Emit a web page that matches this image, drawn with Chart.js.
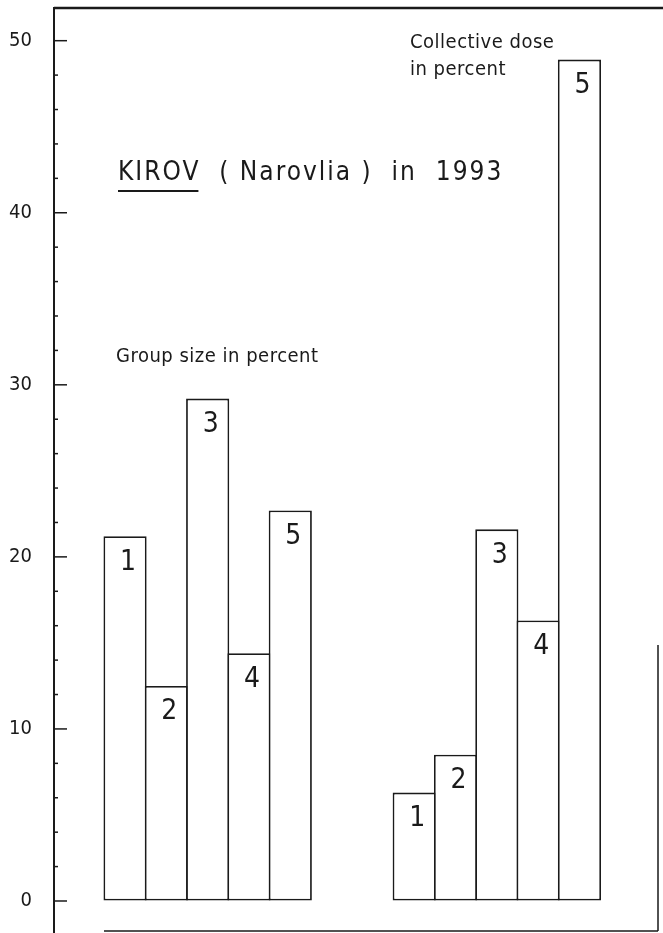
<!DOCTYPE html>
<html>
<head>
<meta charset="utf-8">
<script src="https://cdn.jsdelivr.net/npm/chart.js@4.4.1/dist/chart.umd.min.js"></script>
<style>
  html, body { margin: 0; padding: 0; background: #fff; }
  #wrap { width: 663px; height: 933px; }
</style>
</head>
<body>
<div id="wrap"><canvas id="myChart"></canvas></div>
<script>
// group numbers written inside the bars
const groups = ['1', '2', '3', '4', '5'];

// left block: group size in percent
const groupSize = [21.2, 12.5, 29.2, 14.4, 22.7];

// right block: collective dose in percent
const collectiveDose = [6.3, 8.5, 21.6, 16.3, 48.9];

const yTicks = [0, 10, 20, 30, 40, 50];

const font = "'Liberation Sans Narrow', 'DejaVu Sans Condensed', sans-serif";
const ink = '#1a1a1a';

// second block starts two empty slots after the first
const secondStart = groups.length + 2;

const ctx = document.getElementById('myChart');

// numbers inside bars, frame, inward tick marks and the hand lettering
const drawings = {
  id: 'drawings',
  afterDatasetsDraw(chart) {
    const c = chart.ctx;
    const y = chart.scales.y;
    const area = chart.chartArea;
    c.save();
    c.strokeStyle = ink;
    c.fillStyle = ink;

    // tick marks every 2, long ones at each labelled value
    c.lineWidth = 1.5;
    for (let v = 0; v <= 50; v += 2) {
      const py = y.getPixelForValue(v);
      const len = yTicks.includes(v) ? 13 : 4;
      c.beginPath();
      c.moveTo(area.left, py);
      c.lineTo(area.left + len, py);
      c.stroke();
    }

    // frame lines
    c.lineWidth = 2.5;
    c.beginPath();
    c.moveTo(area.left, 8);
    c.lineTo(663, 8);
    c.stroke();
    c.lineWidth = 1.5;
    c.beginPath();
    c.moveTo(104, 931);
    c.lineTo(658, 931);
    c.moveTo(658, 645);
    c.lineTo(658, 931);
    c.stroke();

    // bar numbers
    c.font = '28px ' + font;
    c.textAlign = 'center';
    c.textBaseline = 'middle';
    chart.data.datasets.forEach(function (ds, di) {
      chart.getDatasetMeta(di).data.forEach(function (bar, i) {
        c.fillText(groups[i], bar.x + 3, bar.y + 26);
      });
    });

    // lettering
    c.textAlign = 'left';
    c.font = '26px ' + font;
    c.letterSpacing = '2px';
    c.fillText('KIROV  ( Narovlia )  in  1993', 118, 173);
    const w = c.measureText('KIROV').width;
    c.lineWidth = 2;
    c.beginPath();
    c.moveTo(118, 191);
    c.lineTo(118 + w - 2, 191);
    c.stroke();

    c.letterSpacing = '0.5px';
    c.font = '20px ' + font;
    c.fillText('Collective dose', 410, 43);
    c.fillText('in percent', 410, 70);
    c.fillText('Group size in percent', 116, 357);
    c.restore();
  }
};

new Chart(ctx, {
  type: 'bar',
  data: {
    datasets: [
      {
        label: 'Group size in percent',
        data: groupSize.map(function (v, i) { return { x: i, y: v }; }),
        backgroundColor: '#fff',
        borderColor: ink
      },
      {
        label: 'Collective dose in percent',
        data: collectiveDose.map(function (v, i) { return { x: i + secondStart, y: v }; }),
        backgroundColor: '#fff',
        borderColor: ink
      }
    ]
  },
  options: {
    responsive: true,
    maintainAspectRatio: false,
    animation: false,
    layout: { padding: { top: 8, right: 3, bottom: 0, left: 0 } },
    datasets: {
      bar: {
        grouped: false,
        categoryPercentage: 1,
        barPercentage: 1.045,
        borderWidth: 1.8,
        borderSkipped: false
      }
    },
    plugins: {
      colors: { enabled: false },
      legend: { display: false },
      tooltip: { enabled: false }
    },
    scales: {
      x: {
        type: 'linear',
        display: false,
        offset: false,
        min: -1.72,
        max: 12.95,
        ticks: { stepSize: 1 }
      },
      y: {
        min: -1.86,
        max: 51.9,
        afterFit: function (s) {
          s.width = 54;
          s.paddingTop = 0;
          s.paddingBottom = 0;
        },
        afterBuildTicks: function (s) {
          s.ticks = yTicks.map(function (v) { return { value: v }; });
        },
        grid: { drawOnChartArea: false, drawTicks: false },
        border: { display: true, color: ink, width: 2 },
        ticks: {
          padding: 22,
          color: ink,
          font: { family: font, size: 20 }
        }
      }
    }
  },
  plugins: [drawings]
});
</script>
</body>
</html>
